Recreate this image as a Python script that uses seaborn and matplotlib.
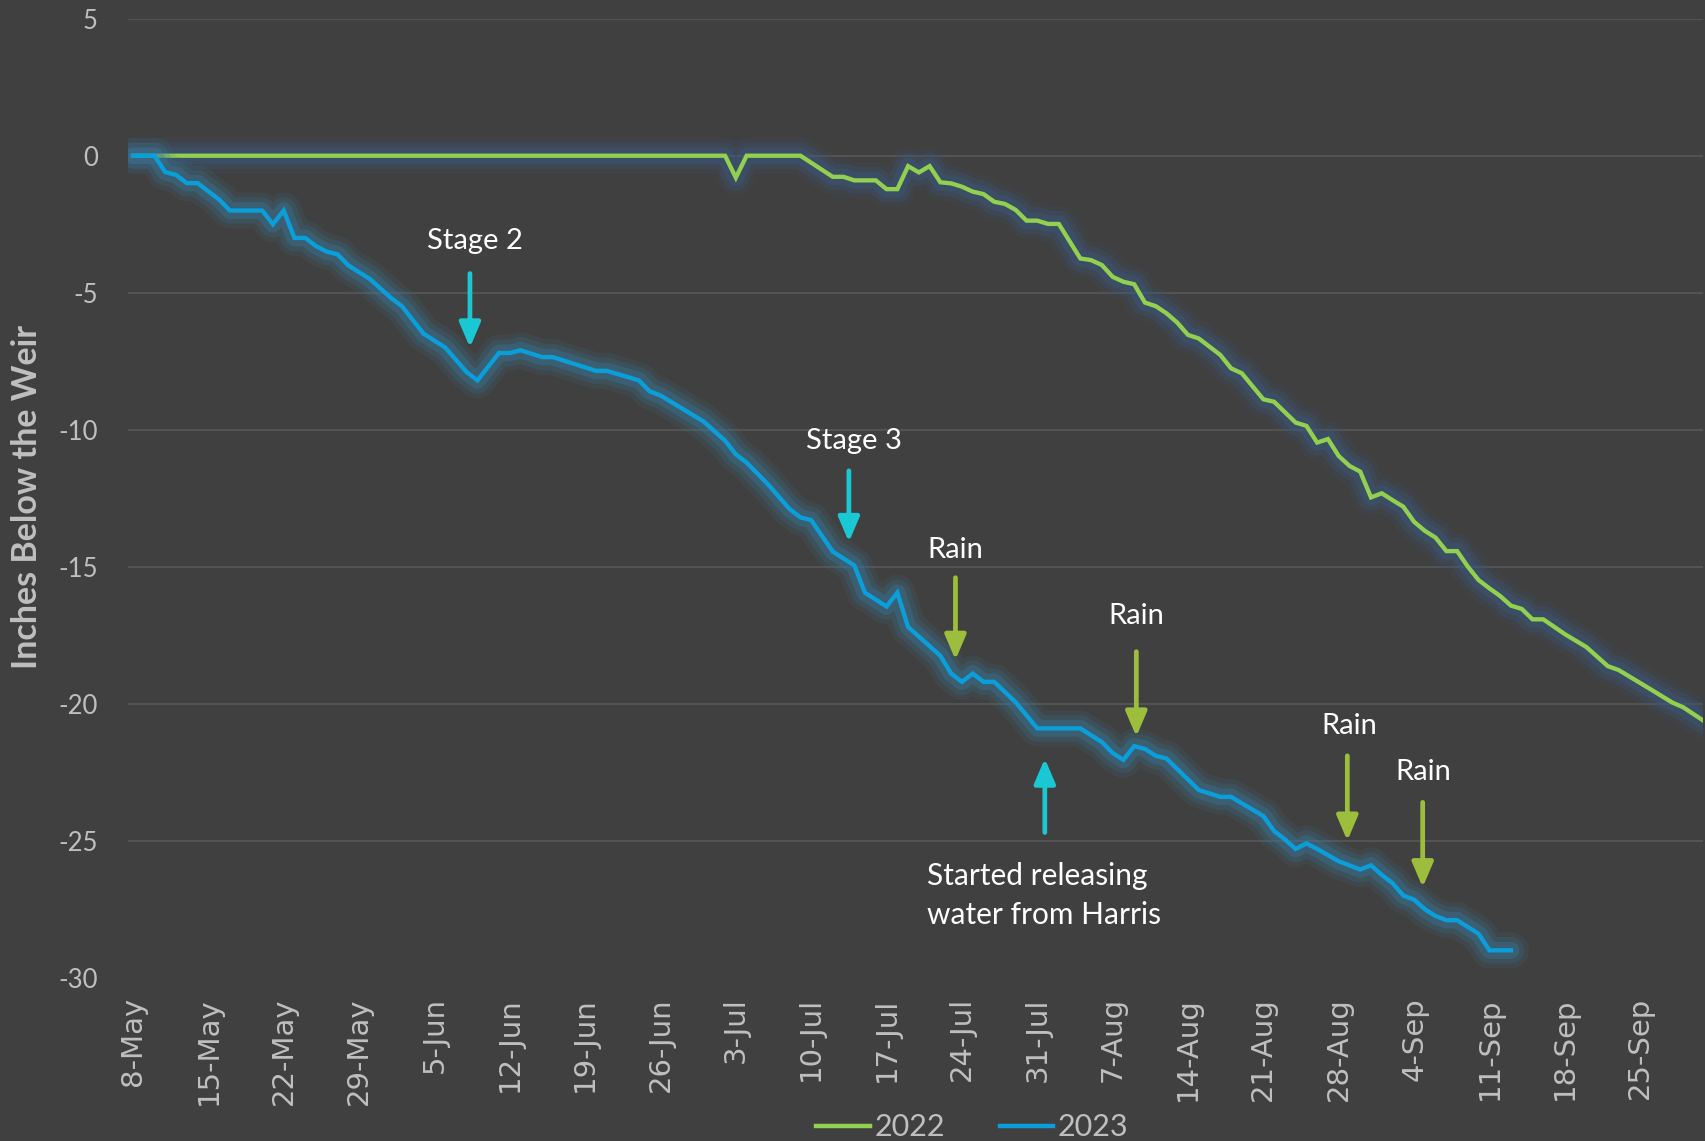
import pandas as pd
import seaborn as sns
import matplotlib.pyplot as plt
import matplotlib.patheffects as pe
from matplotlib.lines import Line2D

# days counted from 8-May
days_2022 = [0, 55, 56, 57, 62, 65, 66, 67, 69, 70, 71, 72, 73, 74, 75, 76, 77, 78, 79, 80,
             81, 82, 83, 84, 85, 86, 88, 89, 90, 91, 92, 93, 94, 95, 96, 97, 98, 99, 101, 102,
             103, 105, 106, 108, 109, 110, 111, 112, 113, 114, 115, 116, 117, 118, 119, 120, 121, 122, 123, 124,
             125, 126, 127, 128, 129, 130, 131, 133, 135, 137, 138, 141, 143, 144, 146]
inches_2022 = [0, 0, -0.8, 0, 0, -0.77, -0.77, -0.9, -0.9, -1.22, -1.22, -0.38, -0.61, -0.38, -0.97, -1.01, -1.13, -1.31, -1.4, -1.68,
               -1.76, -1.98, -2.37, -2.37, -2.49, -2.49, -3.75, -3.81, -3.99, -4.42, -4.6, -4.69, -5.36, -5.49, -5.75, -6.09, -6.54, -6.67, -7.27, -7.76,
               -7.94, -8.89, -8.98, -9.74, -9.86, -10.47, -10.34, -10.96, -11.32, -11.53, -12.47, -12.32, -12.57, -12.81, -13.36, -13.69, -13.94, -14.43, -14.43, -15.0,
               -15.49, -15.79, -16.07, -16.42, -16.54, -16.92, -16.92, -17.46, -17.93, -18.63, -18.77, -19.48, -19.96, -20.13, -20.65]

days_2023 = [0, 2, 3, 4, 5, 6, 7, 8, 9, 12, 13, 14, 15, 16, 17, 18, 19, 20, 22, 24,
             25, 27, 29, 31, 32, 34, 35, 36, 38, 39, 43, 44, 47, 48, 49, 53, 55, 56, 57, 59,
             61, 62, 63, 65, 67, 68, 70, 71, 72, 75, 76, 77, 78, 79, 80, 82, 84, 88, 90, 91,
             92, 93, 94, 95, 96, 99, 101, 102, 105, 106, 107, 108, 109, 110, 112, 114, 115, 116, 117, 118,
             119, 120, 121, 122, 123, 125, 126, 128]
inches_2023 = [0, 0, -0.6, -0.7, -1.0, -1.0, -1.3, -1.6, -2.0, -2.0, -2.5, -2.0, -3.0, -3.0, -3.3, -3.5, -3.6, -4.0, -4.5, -5.2,
               -5.5, -6.5, -7.0, -7.9, -8.2, -7.2, -7.2, -7.1, -7.35, -7.35, -7.85, -7.85, -8.2, -8.6, -8.75, -9.7, -10.4, -10.9, -11.2, -12.0,
               -12.9, -13.2, -13.3, -14.45, -14.95, -15.95, -16.45, -15.95, -17.2, -18.25, -18.9, -19.2, -18.9, -19.2, -19.2, -19.95, -20.9, -20.9, -21.4, -21.8,
               -22.05, -21.55, -21.65, -21.9, -22.0, -23.15, -23.4, -23.4, -24.1, -24.65, -24.95, -25.3, -25.1, -25.3, -25.75, -26.05, -25.9, -26.25, -26.55, -27.0,
               -27.15, -27.5, -27.75, -27.9, -27.9, -28.4, -29.0, -29.0]

tick_labels = ['8-May', '15-May', '22-May', '29-May', '5-Jun', '12-Jun', '19-Jun', '26-Jun', '3-Jul',
               '10-Jul', '17-Jul', '24-Jul', '31-Jul', '7-Aug', '14-Aug', '21-Aug', '28-Aug', '4-Sep',
               '11-Sep', '18-Sep', '25-Sep']
y_ticks = [5, 0, -5, -10, -15, -20, -25, -30]

# annotations: (text, text pos, arrow tail, arrow head, colour kind)
notes = [
    ('Stage 2', (31.8, -3.1), (31.3, -4.3), (31.3, -7.0), 'cyan'),
    ('Stage 3', (67.0, -10.4), (66.5, -11.5), (66.5, -14.1), 'cyan'),
    ('Rain', (76.4, -14.4), (76.4, -15.4), (76.4, -18.4), 'rain'),
    ('Rain', (93.2, -16.8), (93.2, -18.1), (93.2, -21.2), 'rain'),
    ('Rain', (113.0, -20.8), (112.8, -21.9), (112.8, -25.0), 'rain'),
    ('Rain', (119.9, -22.5), (119.8, -23.6), (119.8, -26.7), 'rain'),
]

BG = '#404040'
GREEN = '#92D050'
BLUE = '#0A9FDB'
CYAN = '#1AC8D4'
RAIN = '#9DBE3C'
TXT = '#BFBFBF'

df = pd.concat([
    pd.DataFrame({'day': days_2022, 'inches': inches_2022, 'year': '2022'}),
    pd.DataFrame({'day': days_2023, 'inches': inches_2023, 'year': '2023'}),
])

plt.rcParams['font.family'] = ['Lato', 'DejaVu Sans']

fig = plt.figure(figsize=(17.06, 11.41), dpi=100, facecolor=BG)
ax = fig.add_axes([0.0753, 0.1431, 0.998 - 0.0753, 0.8405])
ax.set_facecolor(BG)

sns.lineplot(data=df, x='day', y='inches', hue='year', palette={'2022': GREEN, '2023': BLUE},
             estimator=None, sort=False, linewidth=3.1, legend=False, ax=ax)

# soft glow under both lines
glow = ['#3A5A82', '#3A7898']
for line, gc in zip(ax.lines, glow):
    soft = dict(foreground=gc, joinstyle='round', capstyle='round')
    line.set_path_effects([
        pe.Stroke(linewidth=26, alpha=0.13, **soft),
        pe.Stroke(linewidth=19, alpha=0.22, **soft),
        pe.Stroke(linewidth=12, alpha=0.38, **soft),
        pe.Normal(),
    ])
    line.set_solid_joinstyle('miter')

ax.set_xlim(-0.42, 145.8)
ax.set_ylim(-30, 5)
for v in y_ticks[:-1]:
    ax.axhline(v, color='#5A5A5A', lw=1.1, zorder=0)

ax.set_xticks(range(0, 7 * len(tick_labels), 7))
ax.set_xticklabels(tick_labels, rotation=90, fontsize=21, color=TXT, family='DejaVu Sans',
                   va='top', ha='center')
ax.set_yticks(y_ticks)
ax.set_yticklabels([str(v) for v in y_ticks], fontsize=18.5, color=TXT)
ax.tick_params(axis='x', length=0, pad=14)
ax.tick_params(axis='y', length=0, pad=22)
ax.set_xlabel('')
ax.set_ylabel('')
for s in ax.spines.values():
    s.set_visible(False)

fig.text(27 / 1706, 1 - 497 / 1141, 'Inches Below the Weir', rotation=90, ha='center', va='center',
         fontsize=24.5, fontweight='bold', color=TXT)

arrow = dict(arrowstyle='-|>,head_length=0.75,head_width=0.32', lw=3.4, shrinkA=0, shrinkB=0,
             mutation_scale=20)
for text, tpos, tail, head, kind in notes:
    col = CYAN if kind == 'cyan' else RAIN
    ax.text(tpos[0], tpos[1], text, ha='center', va='center', fontsize=21, color='white')
    ax.annotate('', xy=head, xytext=tail, arrowprops=dict(arrow, color=col))

ax.text(73.8, -27.0, 'Started releasing\nwater from Harris', ha='left', va='center',
        fontsize=21.5, color='white', linespacing=1.45)
ax.annotate('', xy=(84.7, -22.0), xytext=(84.7, -24.7), arrowprops=dict(arrow, color=CYAN))

handles = [Line2D([], [], color=GREEN, lw=3.2), Line2D([], [], color=BLUE, lw=3.2)]
fig.legend(handles, ['2022', '2023'], loc='center', bbox_to_anchor=(0.570, 0.012), ncol=2,
           frameon=False, fontsize=22, labelcolor=TXT, handlelength=1.75, handletextpad=0.15,
           columnspacing=1.8)

fig.savefig('out.png', dpi=100, facecolor=BG)
